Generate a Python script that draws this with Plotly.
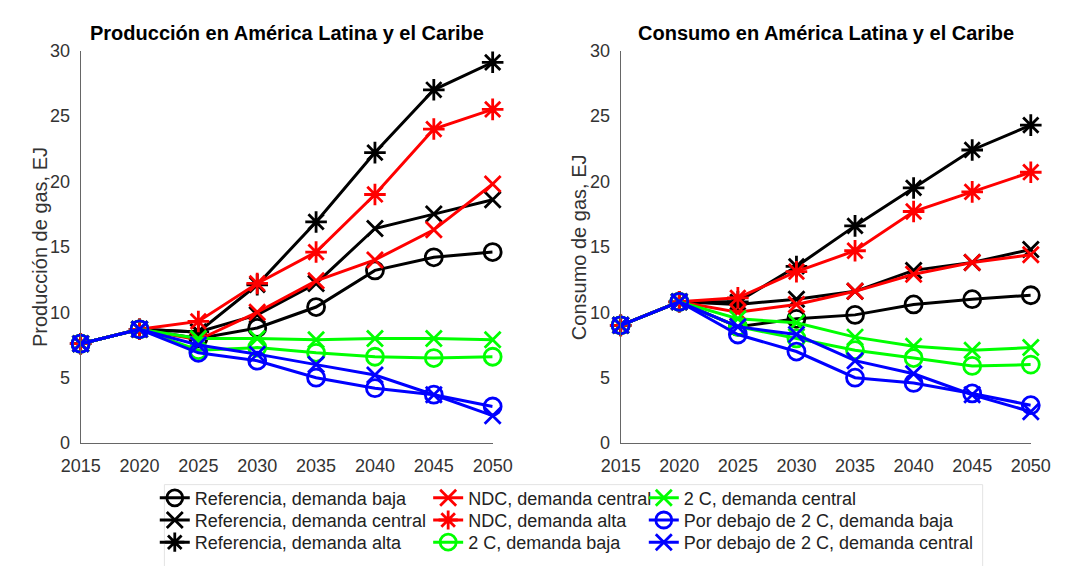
import plotly.graph_objects as go

W, H = 1071, 566

years = [2015, 2020, 2025, 2030, 2035, 2040, 2045, 2050]
y_ticks = [0, 5, 10, 15, 20, 25, 30]

series_names = [
    "Referencia, demanda baja",
    "Referencia, demanda central",
    "Referencia, demanda alta",
    "NDC, demanda central",
    "NDC, demanda alta",
    "2 C, demanda baja",
    "2 C, demanda central",
    "Por debajo de 2 C, demanda baja",
    "Por debajo de 2 C, demanda central",
]

# Producción (EJ)
prod_ref_baja = [7.6, 8.7, 8.0, 8.8, 10.4, 13.2, 14.2, 14.6]
prod_ref_central = [7.6, 8.7, 8.5, 9.8, 12.2, 16.4, 17.5, 18.6]
prod_ref_alta = [7.6, 8.7, 8.5, 12.1, 16.9, 22.2, 27.0, 29.1]
prod_ndc_central = [7.6, 8.7, 7.9, 10.0, 12.4, 14.0, 16.3, 19.8]
prod_ndc_alta = [7.6, 8.7, 9.3, 12.2, 14.6, 19.0, 24.0, 25.5]
prod_2c_baja = [7.6, 8.7, 7.1, 7.3, 6.9, 6.6, 6.5, 6.6]
prod_2c_central = [7.6, 8.7, 8.0, 8.0, 7.9, 8.0, 8.0, 7.9]
prod_b2c_baja = [7.6, 8.7, 6.9, 6.3, 5.0, 4.2, 3.7, 2.8]
prod_b2c_central = [7.6, 8.7, 7.5, 6.8, 6.0, 5.2, 3.7, 2.1]

# Consumo (EJ)
cons_ref_baja = [9.0, 10.8, 8.9, 9.5, 9.8, 10.6, 11.0, 11.3]
cons_ref_central = [9.0, 10.8, 10.6, 11.0, 11.6, 13.2, 13.8, 14.8]
cons_ref_alta = [9.0, 10.8, 10.8, 13.5, 16.6, 19.5, 22.4, 24.3]
cons_ndc_central = [9.0, 10.8, 10.0, 10.6, 11.6, 12.9, 13.8, 14.4]
cons_ndc_alta = [9.0, 10.8, 11.1, 13.1, 14.7, 17.7, 19.2, 20.7]
cons_2c_baja = [9.0, 10.8, 8.9, 8.0, 7.1, 6.5, 5.9, 6.0]
cons_2c_central = [9.0, 10.8, 9.5, 9.2, 8.1, 7.4, 7.1, 7.3]
cons_b2c_baja = [9.0, 10.8, 8.3, 7.0, 5.0, 4.6, 3.8, 2.9]
cons_b2c_central = [9.0, 10.8, 8.9, 8.3, 6.3, 5.3, 3.7, 2.4]

prod_series = [prod_ref_baja, prod_ref_central, prod_ref_alta, prod_ndc_central,
               prod_ndc_alta, prod_2c_baja, prod_2c_central, prod_b2c_baja, prod_b2c_central]
cons_series = [cons_ref_baja, cons_ref_central, cons_ref_alta, cons_ndc_central,
               cons_ndc_alta, cons_2c_baja, cons_2c_central, cons_b2c_baja, cons_b2c_central]

colors = ["#000000", "#000000", "#000000", "#ff0000", "#ff0000",
          "#00ff00", "#00ff00", "#0000ff", "#0000ff"]
symbols = ["circle-open", "x-thin-open", "asterisk-open", "x-thin-open", "asterisk-open",
           "circle-open", "x-thin-open", "circle-open", "x-thin-open"]
sizes = [17, 16, 18, 16, 18, 17, 16, 17, 16]

# legend layout: column-major 3x3 (pixel positions of text start / row centres)
col_text_x = [180, 464, 688]
row_y = [506, 529, 552]

fig = go.Figure()

for i, name in enumerate(series_names):
    leg_id = "legend" if i == 0 else f"legend{i+1}"
    fig.add_trace(go.Scatter(
        x=years, y=prod_series[i], name=name, mode="lines+markers",
        line=dict(color=colors[i], width=3),
        marker=dict(symbol=symbols[i], size=sizes[i], color=colors[i],
                    line=dict(width=2.8, color=colors[i])),
        xaxis="x", yaxis="y", legend=leg_id, showlegend=True, cliponaxis=False,
    ))
for i, name in enumerate(series_names):
    fig.add_trace(go.Scatter(
        x=years, y=cons_series[i], name=name, mode="lines+markers",
        line=dict(color=colors[i], width=3),
        marker=dict(symbol=symbols[i], size=sizes[i], color=colors[i],
                    line=dict(width=2.8, color=colors[i])),
        xaxis="x2", yaxis="y2", showlegend=False, cliponaxis=False,
    ))

def px_x(p):
    return p / W

def px_y(p):
    return 1 - p / H

left_x = (63, 491)
right_x = (624, 1050)
top_y, bot_y = 42, 449

axis_font = dict(family="Liberation Sans, Arial, sans-serif", size=18, color="#333333")
common_x = dict(range=[2015, 2050], tickvals=years, showgrid=False, zeroline=False,
                showline=True, linecolor="#666666", linewidth=1, ticks="",
                tickfont=axis_font, ticklabelstandoff=6, fixedrange=True)
common_y = dict(range=[0, 30], tickvals=y_ticks, showgrid=False, zeroline=False,
                showline=True, linecolor="#666666", linewidth=1, ticks="",
                tickfont=axis_font, ticklabelstandoff=6, fixedrange=True)

layout = dict(
    width=W, height=H,
    margin=dict(l=0, r=0, t=0, b=0),
    paper_bgcolor="white", plot_bgcolor="white",
    xaxis=dict(domain=[px_x(left_x[0]), px_x(left_x[1])], anchor="y", **common_x),
    yaxis=dict(domain=[px_y(bot_y), px_y(top_y)], anchor="x", **common_y),
    xaxis2=dict(domain=[px_x(right_x[0]), px_x(right_x[1])], anchor="y2", **common_x),
    yaxis2=dict(domain=[px_y(bot_y), px_y(top_y)], anchor="x2", **common_y),
)

legend_font = dict(family="Liberation Sans, Arial, sans-serif", size=18, color="#222222")
for i in range(9):
    col, row = i // 3, i % 3
    key = "legend" if i == 0 else f"legend{i+1}"
    layout[key] = dict(
        x=px_x(col_text_x[col] - 40), y=px_y(row_y[row]),
        xanchor="left", yanchor="middle", orientation="v",
        bgcolor="rgba(0,0,0,0)", borderwidth=0, font=legend_font,
        itemclick=False, itemdoubleclick=False,
    )

fig.update_layout(**layout)

title_font = dict(family="Liberation Sans, Arial, sans-serif", size=20, color="#000000")
ylab_font = dict(family="Liberation Sans, Arial, sans-serif", size=20, color="#333333")
annotations = [
    dict(text="<b>Producción en América Latina y el Caribe</b>", x=px_x(sum(left_x) / 2),
         y=px_y(24), xref="paper", yref="paper", showarrow=False,
         xanchor="center", yanchor="middle", font=title_font),
    dict(text="<b>Consumo en América Latina y el Caribe</b>", x=px_x(sum(right_x) / 2),
         y=px_y(24), xref="paper", yref="paper", showarrow=False,
         xanchor="center", yanchor="middle", font=title_font),
    dict(text="Producción de gas, EJ", x=px_x(21), y=px_y((top_y + bot_y) / 2),
         xref="paper", yref="paper", showarrow=False, textangle=-90,
         xanchor="center", yanchor="middle", font=ylab_font),
    dict(text="Consumo de gas, EJ", x=px_x(580), y=px_y((top_y + bot_y) / 2),
         xref="paper", yref="paper", showarrow=False, textangle=-90,
         xanchor="center", yanchor="middle", font=ylab_font),
]
fig.update_layout(annotations=annotations)

fig.add_shape(type="rect", xref="paper", yref="paper",
              x0=px_x(150), x1=px_x(1000), y0=px_y(580), y1=px_y(492),
              line=dict(color="#e3e3e3", width=1), fillcolor="rgba(0,0,0,0)", layer="below")

fig.write_html("out.html", config={"displayModeBar": False},
               post_script="document.body.style.margin='0';")
